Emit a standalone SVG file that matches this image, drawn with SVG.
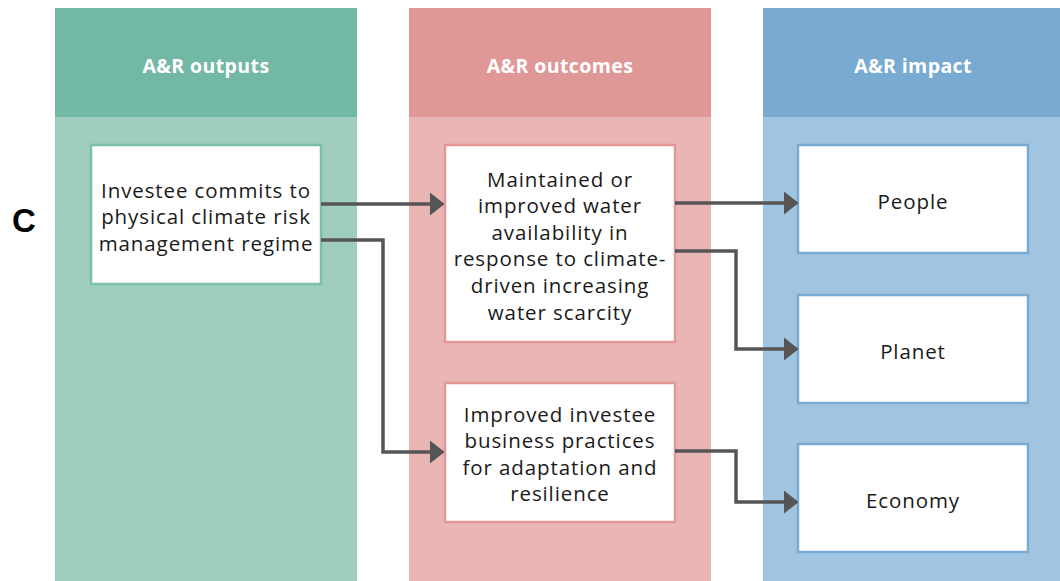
<svg xmlns="http://www.w3.org/2000/svg" width="1060" height="581" viewBox="0 0 1060 581">
<defs>
<style>
.hd{font-family:"Open Sans","Liberation Sans",sans-serif;font-weight:bold;font-size:19.5px;letter-spacing:0.4px;fill:#fff;text-anchor:middle}
.tx{font-family:"Open Sans","Liberation Sans",sans-serif;font-size:20.5px;letter-spacing:0.9px;fill:#1a1a1a;text-anchor:middle}
.box{fill:#fff;stroke-width:2.5}
.g{stroke:#7cc0ab}.r{stroke:#e39896}.b{stroke:#78aad4}
.cn{fill:none;stroke:#555;stroke-width:3.5}
</style>
<marker id="ah" viewBox="0 0 10 10" refX="9" refY="5" markerUnits="userSpaceOnUse" markerWidth="15" markerHeight="24" orient="auto" preserveAspectRatio="none">
<path d="M0,0 L10,5 L0,10 Z" fill="#555"/>
</marker>
</defs>
<rect width="1060" height="581" fill="#fff"/>
<g id="col-outputs">
<rect x="55" y="8" width="302" height="109" fill="#73b8a5"/>
<rect x="55" y="117" width="302" height="464" fill="#9fcdbf"/>
<text class="hd" x="206" y="73">A&amp;R outputs</text>
</g>
<g id="col-outcomes">
<rect x="409" y="8" width="302" height="109" fill="#e09896"/>
<rect x="409" y="117" width="302" height="464" fill="#e9b6b5"/>
<text class="hd" x="560" y="73">A&amp;R outcomes</text>
</g>
<g id="col-impact">
<rect x="763" y="8" width="297" height="109" fill="#78aad2"/>
<rect x="763" y="117" width="297" height="464" fill="#a1c4e0"/>
<text class="hd" x="913" y="73">A&amp;R impact</text>
</g>
<text x="24" y="232" font-family="Liberation Sans, Arial, sans-serif" font-weight="bold" font-size="33" fill="#000" text-anchor="middle">C</text>
<g id="n-commit">
<rect class="box g" x="91" y="145" width="230" height="139"/>
<text class="tx" x="206" y="198">Investee commits to</text>
<text class="tx" x="206" y="224">physical climate risk</text>
<text class="tx" x="206" y="251">management regime</text>
</g>
<g id="n-water">
<rect class="box r" x="445" y="145" width="230" height="197"/>
<text class="tx" x="560" y="187">Maintained or</text>
<text class="tx" x="560" y="213">improved water</text>
<text class="tx" x="560" y="240">availability in</text>
<text class="tx" x="560" y="266">response to climate-</text>
<text class="tx" x="560" y="293">driven increasing</text>
<text class="tx" x="560" y="320">water scarcity</text>
</g>
<g id="n-practices">
<rect class="box r" x="445" y="383" width="230" height="139"/>
<text class="tx" x="560" y="422">Improved investee</text>
<text class="tx" x="560" y="448">business practices</text>
<text class="tx" x="560" y="475">for adaptation and</text>
<text class="tx" x="560" y="501">resilience</text>
</g>
<g id="n-people">
<rect class="box b" x="798" y="145" width="230" height="108"/>
<text class="tx" x="913" y="209">People</text>
</g>
<g id="n-planet">
<rect class="box b" x="798" y="295" width="230" height="108"/>
<text class="tx" x="913" y="359">Planet</text>
</g>
<g id="n-economy">
<rect class="box b" x="798" y="444" width="230" height="108"/>
<text class="tx" x="913" y="508">Economy</text>
</g>
<g id="connectors">
<path class="cn" d="M321,204 H443" marker-end="url(#ah)"/>
<path class="cn" d="M321,240 H383 V452 H443" marker-end="url(#ah)"/>
<path class="cn" d="M675,203 H797" marker-end="url(#ah)"/>
<path class="cn" d="M675,251 H736 V349 H797" marker-end="url(#ah)"/>
<path class="cn" d="M675,451 H736 V502 H797" marker-end="url(#ah)"/>
</g>
</svg>
